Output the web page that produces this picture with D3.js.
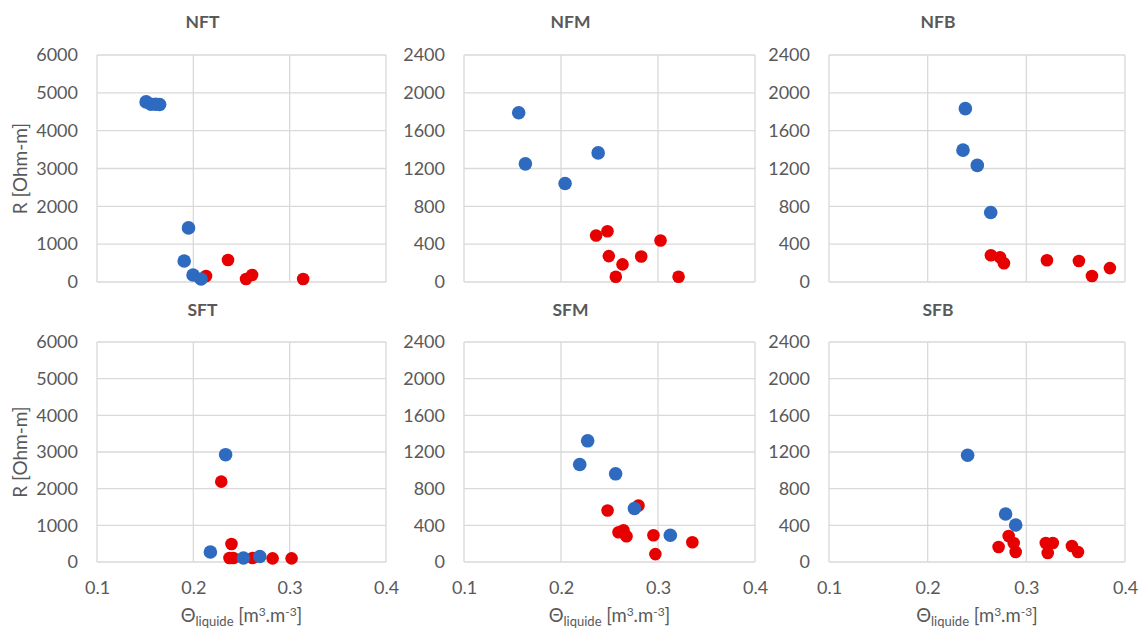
<!DOCTYPE html>
<html>
<head>
<meta charset="utf-8">
<script src="https://cdn.jsdelivr.net/npm/d3@7"></script>
<style>
  body { margin: 0; background: #fff; }
  svg text { font-family: Lato, "Open Sans", sans-serif; fill: #595959; }
</style>
</head>
<body>
<div id="chart"></div>
<script>
// theta (m3/m3), R (Ohm-m) pairs
const nftBlue = [[0.151, 4760], [0.156, 4700], [0.161, 4700], [0.165, 4690], [0.195, 1430], [0.1905, 556], [0.1997, 185], [0.208, 80]];
const nftRed = [[0.2132, 159], [0.236, 582], [0.2547, 80], [0.261, 185], [0.314, 80]];
const nfmBlue = [[0.1564, 1789], [0.1633, 1249], [0.2042, 1042], [0.2383, 1365]];
const nfmRed = [[0.2362, 491], [0.2479, 537], [0.2493, 274], [0.2634, 186], [0.2565, 56], [0.2827, 270], [0.3026, 439], [0.3212, 56]];
const nfbBlue = [[0.2382, 1833], [0.2358, 1394], [0.2503, 1233], [0.2639, 735]];
const nfbRed = [[0.2641, 283], [0.2733, 262], [0.2773, 199], [0.3209, 230], [0.3533, 222], [0.3665, 63], [0.3847, 147]];
const sftBlue = [[0.2335, 2927], [0.2177, 273], [0.252, 109], [0.269, 150]];
const sftRed = [[0.229, 2191], [0.2396, 491], [0.2375, 109], [0.2415, 109], [0.2615, 109], [0.2823, 100], [0.302, 100]];
const sfmBlue = [[0.2275, 1322], [0.2193, 1063], [0.2563, 962], [0.2757, 584], [0.3127, 292]];
const sfmRed = [[0.248, 562], [0.2799, 617], [0.2593, 324], [0.2644, 346], [0.2675, 281], [0.2953, 292], [0.2973, 86], [0.3354, 216]];
const sfbBlue = [[0.2405, 1164], [0.279, 524], [0.2892, 404]];
const sfbRed = [[0.2821, 284], [0.2719, 164], [0.2872, 207], [0.2892, 109], [0.3197, 207], [0.3268, 207], [0.3217, 98], [0.3462, 175], [0.3523, 109]];

const panelTitles = ["NFT", "NFM", "NFB", "SFT", "SFM", "SFB"];
const thetaTicks = [0.1, 0.2, 0.3, 0.4];
const rTicksHigh = [0, 1000, 2000, 3000, 4000, 5000, 6000];
const rTicksLow = [0, 400, 800, 1200, 1600, 2000, 2400];
const yLabel = "R [Ohm-m]";

const width = 1140, height = 631;
const blue = "#2e6bc0", red = "#e60000", grid = "#d9d9d9";

const svg = d3.select("#chart").append("svg")
    .attr("width", width)
    .attr("height", height);

// plot boxes, left to right, top row then bottom row
const cols = [[97, 386], [464, 755], [829, 1125]];
const rows = [[55, 282], [342, 562]];

const panels = [
    { blue: nftBlue, red: nftRed, ticks: rTicksHigh },
    { blue: nfmBlue, red: nfmRed, ticks: rTicksLow },
    { blue: nfbBlue, red: nfbRed, ticks: rTicksLow },
    { blue: sftBlue, red: sftRed, ticks: rTicksHigh },
    { blue: sfmBlue, red: sfmRed, ticks: rTicksLow },
    { blue: sfbBlue, red: sfbRed, ticks: rTicksLow }
];

panels.forEach((p, i) => {
    var col = i % 3, row = Math.floor(i / 3);
    var x0 = cols[col][0], x1 = cols[col][1];
    var y0 = rows[row][0], y1 = rows[row][1];

    var x = d3.scaleLinear().domain([0.1, 0.4]).range([x0, x1]);
    var y = d3.scaleLinear().domain([0, d3.max(p.ticks)]).range([y1, y0]);

    var g = svg.append("g");

    // grid
    g.selectAll(".hgrid").data(p.ticks).enter().append("line")
        .attr("x1", x0).attr("x2", x1)
        .attr("y1", d => y(d)).attr("y2", d => y(d))
        .style("stroke", grid).style("stroke-width", 1.3);
    g.selectAll(".vgrid").data(thetaTicks).enter().append("line")
        .attr("x1", d => x(d)).attr("x2", d => x(d))
        .attr("y1", y0).attr("y2", y1)
        .style("stroke", grid).style("stroke-width", 1.3);

    // y axis labels
    var yAxis = g.append("g")
        .attr("transform", "translate(" + x0 + ",0)")
        .call(d3.axisLeft(y).tickValues(p.ticks).tickSize(0).tickPadding(19).tickFormat(d3.format("d")));
    yAxis.select(".domain").remove();
    yAxis.selectAll("text").style("font-size", "18px").style("fill", "#595959");

    // x axis labels only on the bottom row
    if (row === 1) {
        var xAxis = g.append("g")
            .attr("transform", "translate(0," + y1 + ")")
            .call(d3.axisBottom(x).tickValues(thetaTicks).tickSize(0).tickPadding(19).tickFormat(d3.format(".1f")));
        xAxis.select(".domain").remove();
        xAxis.selectAll("text").style("font-size", "18px").style("fill", "#595959");

        var t = g.append("text")
            .attr("x", (x0 + x1) / 2)
            .attr("y", 622)
            .attr("text-anchor", "middle")
            .style("font-size", "18.5px");
        t.append("tspan").text("\u0398");
        t.append("tspan").text("liquide").attr("dy", 4).style("font-size", "13px");
        t.append("tspan").text(" [m").attr("dy", -4);
        t.append("tspan").text("3").attr("dy", -6).style("font-size", "12px");
        t.append("tspan").text(".m").attr("dy", 6);
        t.append("tspan").text("-3").attr("dy", -6).style("font-size", "12px");
        t.append("tspan").text("]").attr("dy", 6);
    }

    // y title only on the left column
    if (col === 0) {
        g.append("text")
            .attr("transform", "translate(27," + ((y0 + y1) / 2) + ") rotate(-90)")
            .attr("text-anchor", "middle")
            .style("font-size", "19px")
            .text(yLabel);
    }

    // title
    g.append("text")
        .attr("x", (x0 + x1) / 2 - 39)
        .attr("y", row === 0 ? 28 : 316)
        .attr("text-anchor", "middle")
        .style("font-size", "17.5px")
        .style("font-weight", "bold")
        .text(panelTitles[i]);

    // points: red first, blue drawn over it
    g.selectAll(".red").data(p.red).enter().append("circle")
        .attr("cx", d => x(d[0])).attr("cy", d => y(d[1]))
        .attr("r", 6.3)
        .style("fill", red);
    g.selectAll(".blue").data(p.blue).enter().append("circle")
        .attr("cx", d => x(d[0])).attr("cy", d => y(d[1]))
        .attr("r", 6.8)
        .style("fill", blue);
});
</script>
</body>
</html>
